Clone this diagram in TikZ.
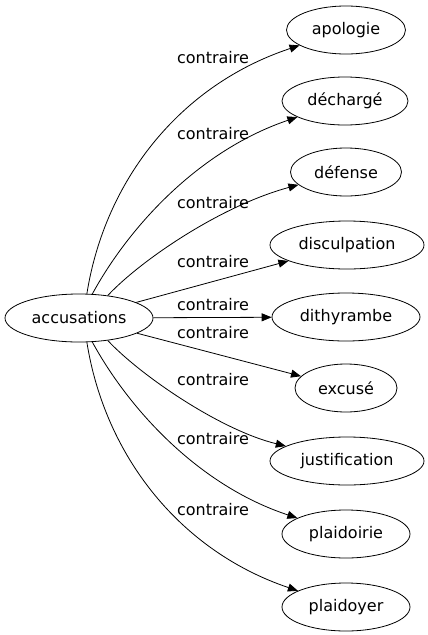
\documentclass[tikz,border=0pt]{standalone}
\usepackage{fontspec}
\setmainfont{DejaVu Sans}
\usetikzlibrary{arrows.meta,shapes.geometric}

\begin{document}
\begin{tikzpicture}[
  x=1pt, y=-1pt,
  font=\fontsize{16}{19}\selectfont,
  word/.style={ellipse, draw, line width=0.8pt, inner sep=0pt, minimum height=48pt},
  lbl/.style={inner sep=1pt},
  rel/.style={-{Triangle[length=10pt,width=8pt]}, line width=0.8pt},
]
  \useasboundingbox (0,0) rectangle (428,635);

  % Source word
  \node[word, minimum width=148pt] (acc) at (79,318) {accusations};

  % Opposites
  \node[word, minimum width=119pt] (apo) at (346,30) {apologie};
  \node[word, minimum width=126pt] (dech) at (345,101) {déchargé};
  \node[word, minimum width=111pt] (def) at (346,172) {défense};
  \node[word, minimum width=154pt] (disc) at (347,245) {disculpation};
  \node[word, minimum width=148pt] (dith) at (346,317) {dithyrambe};
  \node[word, minimum width=102pt] (exc) at (346,388) {excusé};
  \node[word, minimum width=154pt] (just) at (347,461) {justification};
  \node[word, minimum width=128pt] (plaidoi) at (346,534) {plaidoirie};
  \node[word, minimum width=128pt] (plaidoy) at (346,607) {plaidoyer};

  % Relations
  \draw[rel] (acc.72) .. controls (105,180) and (180,85) .. (apo);
  \draw[rel] (acc.61) .. controls (130,225) and (200,150) .. (dech);
  \draw[rel] (acc.38) .. controls (140,261) and (220,206) .. (def);
  \draw[rel] (acc) -- (disc);
  \draw[rel] (acc) -- (dith);
  \draw[rel] (acc) -- (exc);
  \draw[rel] (acc.-38) .. controls (140,375) and (220,430) .. (just);
  \draw[rel] (acc.-61) .. controls (130,411) and (200,486) .. (plaidoi);
  \draw[rel] (acc.-72) .. controls (105,456) and (180,551) .. (plaidoy);

  % Labels
  \node[lbl] (l1) at (213,58) {contraire};
  \node[lbl] (l2) at (213,134) {contraire};
  \node[lbl] (l3) at (213,203) {contraire};
  \node[lbl] (l4) at (213,262) {contraire};
  \node[lbl] (l5) at (213,305) {contraire};
  \node[lbl] (l6) at (213,333) {contraire};
  \node[lbl] (l7) at (213,380) {contraire};
  \node[lbl] (l8) at (213,439) {contraire};
  \node[lbl] (l9) at (213,510) {contraire};
\end{tikzpicture}
\end{document}
